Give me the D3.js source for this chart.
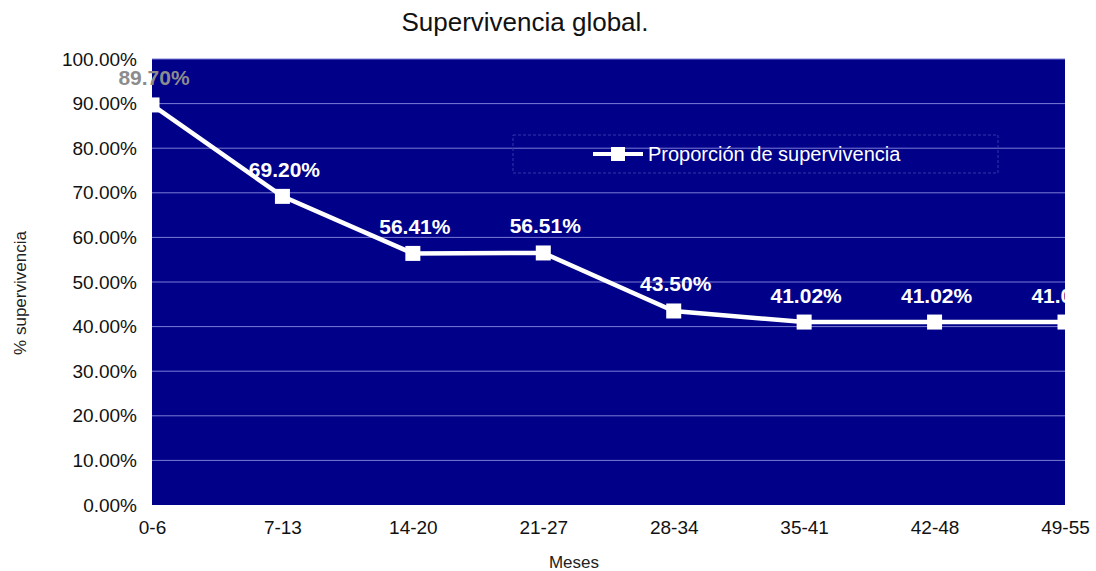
<!DOCTYPE html>
<html>
<head>
<meta charset="utf-8">
<script src="https://cdn.jsdelivr.net/npm/d3@7"></script>
<style>
  body { margin: 0; background: #ffffff; }
  svg { display: block; font-family: "Liberation Sans", Arial, sans-serif; }
</style>
</head>
<body>
<svg id="chart" width="1096" height="571"></svg>
<script>
// Survival proportion by month interval
const categories = ["0-6", "7-13", "14-20", "21-27", "28-34", "35-41", "42-48", "49-55"];
const survival = [89.70, 69.20, 56.41, 56.51, 43.50, 41.02, 41.02, 41.02];
const yTicks = [0, 10, 20, 30, 40, 50, 60, 70, 80, 90, 100];
const seriesName = "Proporción de supervivencia";

const svg = d3.select("#chart");
const plotLeft = 152, plotRight = 1065, plotTop = 59, plotBottom = 505;

const x = d3.scalePoint().domain(categories).range([plotLeft, plotRight]);
const y = d3.scaleLinear().domain([0, 100]).range([plotBottom, plotTop]);

// Plot background
svg.append("rect")
  .attr("x", plotLeft).attr("y", plotTop)
  .attr("width", plotRight - plotLeft).attr("height", plotBottom - plotTop)
  .attr("fill", "#000088");

// Horizontal gridlines
svg.append("g").selectAll("line").data(yTicks.filter(d => d > 0)).join("line")
  .attr("x1", plotLeft).attr("x2", plotRight)
  .attr("y1", d => y(d)).attr("y2", d => y(d))
  .attr("stroke", "#7b7bd6").attr("stroke-width", 1);

// Y axis
const yAxis = svg.append("g")
  .attr("transform", `translate(${plotLeft},0)`)
  .call(d3.axisLeft(y).tickValues(yTicks).tickSize(0).tickPadding(15)
    .tickFormat(d => d.toFixed(2) + "%"));
yAxis.select(".domain").remove();
yAxis.selectAll("text").attr("font-size", 19).attr("fill", "#111")
  .attr("font-family", "'Liberation Sans', Arial, sans-serif");

// X axis
const xAxis = svg.append("g")
  .attr("transform", `translate(0,${plotBottom})`)
  .call(d3.axisBottom(x).tickSize(0).tickPadding(16));
xAxis.select(".domain").remove();
xAxis.selectAll("text").attr("font-size", 19).attr("fill", "#111")
  .attr("font-family", "'Liberation Sans', Arial, sans-serif");

// Titles
svg.append("text").attr("x", 525).attr("y", 31)
  .attr("text-anchor", "middle").attr("font-size", 26).attr("fill", "#111")
  .text("Supervivencia global.");
svg.append("text").attr("x", 574).attr("y", 568)
  .attr("text-anchor", "middle").attr("font-size", 17).attr("fill", "#222")
  .text("Meses");
svg.append("text")
  .attr("transform", `translate(26,293) rotate(-90)`)
  .attr("text-anchor", "middle").attr("font-size", 17).attr("fill", "#222")
  .text("% supervivencia");

// Legend
const lg = svg.append("g");
lg.append("rect").attr("x", 513).attr("y", 135).attr("width", 485).attr("height", 38)
  .attr("fill", "none").attr("stroke", "#3636a6").attr("stroke-width", 1)
  .attr("stroke-dasharray", "3,2");
lg.append("line").attr("x1", 593).attr("x2", 643).attr("y1", 154).attr("y2", 154)
  .attr("stroke", "#fff").attr("stroke-width", 4);
lg.append("rect").attr("x", 611).attr("y", 147).attr("width", 14).attr("height", 14)
  .attr("fill", "#fff");
lg.append("text").attr("x", 648).attr("y", 161).attr("font-size", 20).attr("fill", "#fff")
  .text(seriesName);

// Series, clipped at the right edge of the plot
svg.append("defs").append("clipPath").attr("id", "plotclip")
  .append("rect").attr("x", 0).attr("y", 0).attr("width", plotRight).attr("height", 571);

const series = svg.append("g").attr("clip-path", "url(#plotclip)");
const pts = categories.map((c, i) => ({ c, v: survival[i] }));

series.append("path").datum(pts)
  .attr("fill", "none").attr("stroke", "#fff").attr("stroke-width", 4.5)
  .attr("d", d3.line().x(d => x(d.c)).y(d => y(d.v)));

series.selectAll("rect.pt").data(pts).join("rect").attr("class", "pt")
  .attr("x", d => x(d.c) - 7.5).attr("y", d => y(d.v) - 7.5)
  .attr("width", 15).attr("height", 15).attr("fill", "#fff");

series.selectAll("text.lbl").data(pts).join("text").attr("class", "lbl")
  .attr("x", d => x(d.c) + 2).attr("y", d => y(d.v) - 19.5)
  .attr("text-anchor", "middle").attr("font-size", 21).attr("font-weight", "bold")
  .attr("fill", (d, i) => i === 0 ? "#8c8c8c" : "#fff")
  .text(d => d.v.toFixed(2) + "%");
</script>
</body>
</html>
